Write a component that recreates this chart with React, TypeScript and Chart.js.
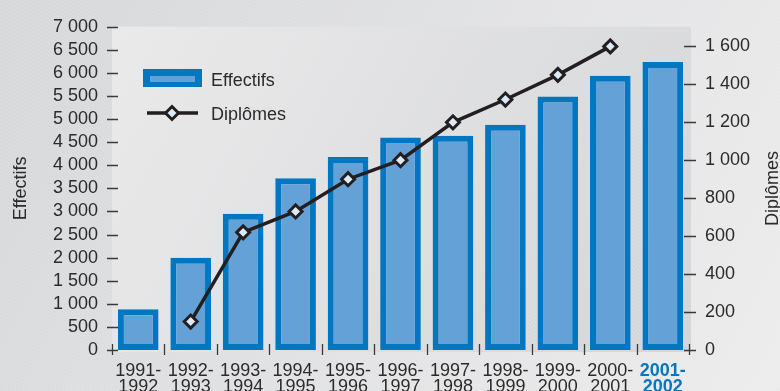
import React, { useEffect, useRef } from "react";
import { Chart, registerables } from "chart.js";

Chart.register(...registerables);

const categories: string[][] = [
  ["1991-", "1992"],
  ["1992-", "1993"],
  ["1993-", "1994"],
  ["1994-", "1995"],
  ["1995-", "1996"],
  ["1996-", "1997"],
  ["1997-", "1998"],
  ["1998-", "1999"],
  ["1999-", "2000"],
  ["2000-", "2001"],
  ["2001-", "2002"],
];
const effectifs = [880, 2000, 2950, 3720, 4180, 4600, 4640, 4880, 5490, 5940, 6240];
const diplomes: (number | null)[] = [null, 150, 620, 730, 900, 1000, 1200, 1320, 1450, 1600, null];
const leftTicks = [0, 500, 1000, 1500, 2000, 2500, 3000, 3500, 4000, 4500, 5000, 5500, 6000, 6500, 7000];
const rightTicks = [0, 200, 400, 600, 800, 1000, 1200, 1400, 1600];

const FONT = "'Liberation Sans', Arial, Helvetica, sans-serif";
const BAR_BORDER = "#0077c0";
const BAR_FILL = "#64a1d6";
const LINE = "#231f20";
const MARKER_FILL = "#dce9f7";
const TEXT = "#2b2b2b";

const fmt = (v: number) =>
  v >= 1000 ? `${Math.floor(v / 1000)} ${String(v % 1000).padStart(3, "0")}` : String(v);

const decorPlugin = {
  id: "decor",
  beforeDraw(chart: any) {
    const { ctx, width, height, chartArea } = chart;
    ctx.save();
    const g = ctx.createLinearGradient(0, 0, width, height);
    g.addColorStop(0, "#d6d7d9");
    g.addColorStop(1, "#ececed");
    ctx.fillStyle = g;
    ctx.fillRect(0, 0, width, height);
    const px0 = chartArea.left, py0 = chartArea.top, px1 = chartArea.right + 2, py1 = chartArea.bottom + 2;
    const pg = ctx.createLinearGradient(px0, py0, px1, py1);
    pg.addColorStop(0, "#e9e9ea");
    pg.addColorStop(1, "#d3d4d6");
    ctx.fillStyle = pg;
    ctx.beginPath();
    ctx.moveTo(px0, py0);
    ctx.lineTo(px1 - 3, py0);
    ctx.quadraticCurveTo(px1, py0, px1, py0 + 3);
    ctx.lineTo(px1, py1);
    ctx.lineTo(px0, py1);
    ctx.closePath();
    ctx.fill();
    ctx.strokeStyle = "rgba(255,255,255,0.18)";
    ctx.lineWidth = 1;
    ctx.beginPath();
    for (let k = -height; k < width; k += 4) {
      ctx.moveTo(k, 0);
      ctx.lineTo(k + height, height);
    }
    ctx.stroke();
    ctx.restore();
  },
  afterDatasetsDraw(chart: any) {
    const { ctx, chartArea, scales } = chart;
    ctx.save();
    ctx.strokeStyle = "#3a3a3a";
    ctx.lineWidth = 1.3;
    ctx.beginPath();
    leftTicks.forEach((v) => {
      const y = Math.round(scales.y.getPixelForValue(v)) + 0.5;
      ctx.moveTo(chartArea.left - 5, y);
      ctx.lineTo(chartArea.left + 6, y);
    });
    rightTicks.forEach((v) => {
      const y = Math.round(scales.y1.getPixelForValue(v)) + 0.5;
      ctx.moveTo(chartArea.right - 5, y);
      ctx.lineTo(chartArea.right + 7, y);
    });
    const n = categories.length;
    const step = (chartArea.right - chartArea.left) / n;
    for (let i = 0; i <= n; i++) {
      const x = Math.round(chartArea.left + i * step) + 0.5;
      ctx.moveTo(x, chartArea.bottom - 6);
      ctx.lineTo(x, chartArea.bottom + 5);
    }
    ctx.stroke();
    ctx.restore();
  },
  afterDraw(chart: any) {
    const { ctx, chartArea } = chart;
    ctx.save();
    ctx.fillStyle = BAR_BORDER;
    ctx.fillRect(143, 69, 59, 18);
    ctx.fillStyle = BAR_FILL;
    ctx.fillRect(150, 76, 45, 6);
    ctx.strokeStyle = LINE;
    ctx.lineWidth = 3.5;
    ctx.beginPath();
    ctx.moveTo(147, 113);
    ctx.lineTo(198, 113);
    ctx.stroke();
    ctx.beginPath();
    const r = 6.5;
    ctx.moveTo(172 - r, 113);
    ctx.lineTo(172, 113 - r);
    ctx.lineTo(172 + r, 113);
    ctx.lineTo(172, 113 + r);
    ctx.closePath();
    ctx.fillStyle = MARKER_FILL;
    ctx.fill();
    ctx.lineWidth = 3;
    ctx.stroke();
    ctx.fillStyle = TEXT;
    ctx.font = `18px ${FONT}`;
    ctx.textAlign = "left";
    ctx.textBaseline = "alphabetic";
    ctx.fillText("Effectifs", 211, 86);
    ctx.fillText("Diplômes", 211, 120);
    const cy = (chartArea.top + chartArea.bottom) / 2;
    ctx.textAlign = "center";
    ctx.save();
    ctx.translate(26, cy);
    ctx.rotate(-Math.PI / 2);
    ctx.fillText("Effectifs", 0, 0);
    ctx.restore();
    ctx.save();
    ctx.translate(778, cy);
    ctx.rotate(-Math.PI / 2);
    ctx.fillText("Diplômes", 0, 0);
    ctx.restore();
    ctx.restore();
  },
};

export default function App() {
  const ref = useRef<HTMLCanvasElement | null>(null);
  useEffect(() => {
    if (!ref.current) return;
    const last = categories.length - 1;
    const chart = new Chart(ref.current, {
      data: {
        labels: categories,
        datasets: [
          {
            type: "line",
            label: "Diplômes",
            data: diplomes,
            yAxisID: "y1",
            borderColor: LINE,
            borderWidth: 3.5,
            pointStyle: "rectRot",
            pointRadius: 6.5,
            pointBackgroundColor: MARKER_FILL,
            pointBorderColor: LINE,
            pointBorderWidth: 3,
            tension: 0,
            spanGaps: false,
            order: 1,
          } as any,
          {
            type: "bar",
            label: "Effectifs",
            data: effectifs,
            yAxisID: "y",
            backgroundColor: BAR_FILL,
            borderColor: BAR_BORDER,
            borderWidth: 6,
            borderSkipped: false,
            barPercentage: 0.775,
            categoryPercentage: 1,
            order: 2,
          } as any,
        ],
      },
      options: {
        responsive: false,
        animation: false,
        devicePixelRatio: 1,
        layout: { padding: { top: 20, left: 0, right: 0, bottom: 0 } },
        plugins: { legend: { display: false }, tooltip: { enabled: false } },
        scales: {
          x: {
            type: "category",
            offset: true,
            grid: { display: false, drawTicks: false },
            border: { display: false },
            ticks: {
              autoSkip: false,
              maxRotation: 0,
              padding: 13,
              font: (c: any) => ({ family: FONT, size: 18, lineHeight: 0.9, weight: c.index === last ? "bold" : "normal" }),
              color: (c: any) => (c.index === last ? BAR_BORDER : TEXT),
            },
            afterFit: (s: any) => {
              s.height = 41;
            },
          },
          y: {
            position: "left",
            min: 0,
            max: 7000,
            grid: { display: false, drawTicks: false },
            border: { display: false },
            afterBuildTicks: (s: any) => {
              s.ticks = leftTicks.map((v) => ({ value: v }));
            },
            ticks: {
              autoSkip: false,
              padding: 14,
              color: TEXT,
              font: { family: FONT, size: 18 },
              callback: (v: any) => fmt(Number(v)),
            },
            afterFit: (s: any) => {
              s.width = 112;
            },
          },
          y1: {
            position: "right",
            min: 0,
            max: 1600 * 330 / 310,
            grid: { display: false, drawTicks: false },
            border: { display: false },
            afterBuildTicks: (s: any) => {
              s.ticks = rightTicks.map((v) => ({ value: v }));
            },
            ticks: {
              autoSkip: false,
              padding: 16,
              color: TEXT,
              font: { family: FONT, size: 18 },
              callback: (v: any) => fmt(Number(v)),
            },
            afterFit: (s: any) => {
              s.width = 91;
            },
          },
        },
      } as any,
      plugins: [decorPlugin],
    });
    return () => chart.destroy();
  }, []);
  return (
    <div style={{ position: "absolute", left: 0, top: 0, width: 780, height: 391 }}>
      <canvas ref={ref} width={780} height={391} style={{ width: 780, height: 391, display: "block" }} />
    </div>
  );
}
